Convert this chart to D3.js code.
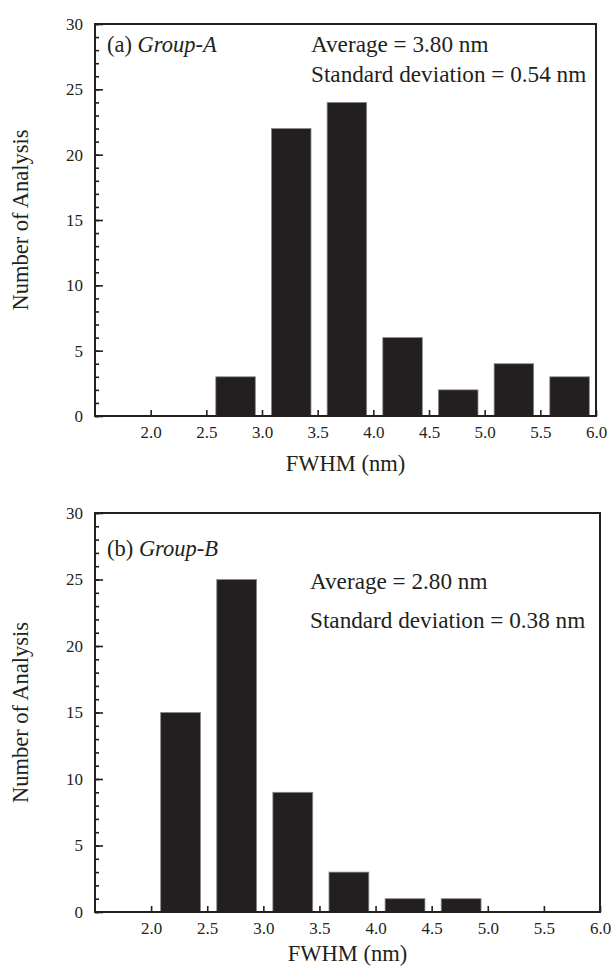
<!DOCTYPE html>
<html lang="en">
<head>
<meta charset="UTF-8">
<title>FWHM histograms</title>
<script src="https://cdn.jsdelivr.net/npm/d3@7/dist/d3.min.js"></script>
<style>
body { margin: 0; background: #fff; }
svg { display: block; font-family: "Liberation Serif", "Times New Roman", serif; }
.tick text { font-family: "Liberation Serif", "Times New Roman", serif; font-size: 17px; fill: #231f20; }
.axis path { display: none; }
.axis line { stroke: #231f20; stroke-width: 1.6px; }
.frame { fill: none; stroke: #231f20; stroke-width: 2px; }
.bar { fill: #231f20; stroke: #8a8a8a; stroke-width: 0.8px; }
.lbl { font-size: 22.5px; fill: #231f20; }
.stat { font-size: 23.2px; }
</style>
</head>
<body>
<svg width="611" height="975"></svg>
<script>
// bins (lower edge, nm) and counts
var binsA = [2.5, 3.0, 3.5, 4.0, 4.5, 5.0, 5.5];
var countsA = [3, 22, 24, 6, 2, 4, 3];
var binsB = [2.0, 2.5, 3.0, 3.5, 4.0, 4.5];
var countsB = [15, 25, 9, 3, 1, 1];

var xTicks = [2.0, 2.5, 3.0, 3.5, 4.0, 4.5, 5.0, 5.5, 6.0];
var yTicks = [0, 5, 10, 15, 20, 25, 30];
var yMinor = d3.range(0, 31, 1);

var titleA = ["(a) ", "Group-A"];
var titleB = ["(b) ", "Group-B"];
var statsA = ["Average = 3.80 nm", "Standard deviation = 0.54 nm"];
var statsB = ["Average = 2.80 nm", "Standard deviation = 0.38 nm"];

var svg = d3.select("svg");

function panel(p) {
	var x = d3.scaleLinear().domain([1.5, 6.0]).range([p.left, p.right]);
	var y = d3.scaleLinear().domain([0, 30]).range([p.bottom, p.top]);
	var g = svg.append("g");

	g.selectAll(".bar")
		.data(p.bins.map(function(b, i) { return { b: b, n: p.counts[i] }; }))
		.enter().append("rect")
		.attr("class", "bar")
		.attr("x", function(d) { return x(d.b + 0.085); })
		.attr("width", function(d) { return x(d.b + 0.44) - x(d.b + 0.085); })
		.attr("y", function(d) { return y(d.n); })
		.attr("height", function(d) { return y(0) - y(d.n); });

	// minor y ticks (inward)
	g.append("g")
		.attr("class", "axis")
		.attr("transform", "translate(" + p.left + ",0)")
		.call(d3.axisLeft(y).tickValues(yMinor).tickSize(-4).tickFormat(""));

	g.append("g")
		.attr("class", "axis")
		.attr("transform", "translate(" + p.left + ",0)")
		.call(d3.axisLeft(y).tickValues(yTicks).tickSize(-8).tickPadding(12).tickFormat(d3.format("d")));

	g.append("g")
		.attr("class", "axis")
		.attr("transform", "translate(0," + p.bottom + ")")
		.call(d3.axisBottom(x).tickValues(xTicks).tickSize(-6).tickPadding(10).tickFormat(d3.format(".1f")));

	g.append("rect")
		.attr("class", "frame")
		.attr("x", p.left).attr("y", p.top)
		.attr("width", p.right - p.left).attr("height", p.bottom - p.top);

	var t = g.append("text").attr("class", "lbl").attr("x", p.left + 12).attr("y", p.titleY);
	t.append("tspan").text(p.title[0]);
	t.append("tspan").attr("font-style", "italic").text(p.title[1]);

	g.selectAll(".stat")
		.data(p.stats)
		.enter().append("text")
		.attr("class", "lbl stat")
		.attr("x", p.statX)
		.attr("y", function(d, i) { return p.statY[i]; })
		.text(function(d) { return d; });

	g.append("text")
		.attr("class", "lbl")
		.attr("text-anchor", "middle")
		.attr("transform", "translate(" + 28 + "," + ((p.top + p.bottom) / 2) + ") rotate(-90)")
		.text("Number of Analysis");

	g.append("text")
		.attr("class", "lbl")
		.attr("text-anchor", "middle")
		.attr("x", (p.left + p.right) / 2)
		.attr("y", p.xTitleY)
		.text("FWHM (nm)");
}

panel({ bins: binsA, counts: countsA, left: 95, right: 596, top: 24, bottom: 416,
	title: titleA, titleY: 52, stats: statsA, statX: 311, statY: [52, 82], xTitleY: 471 });
panel({ bins: binsB, counts: countsB, left: 95, right: 600, top: 513, bottom: 912,
	title: titleB, titleY: 556, stats: statsB, statX: 310, statY: [589, 628], xTitleY: 961 });
</script>
</body>
</html>
